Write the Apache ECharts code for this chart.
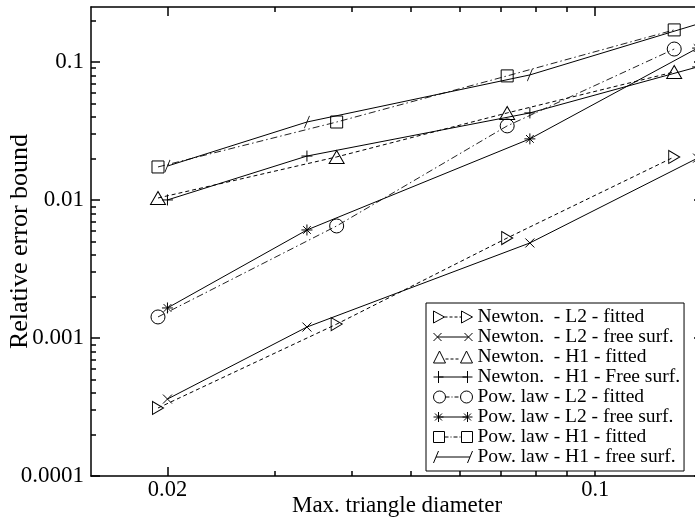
<!DOCTYPE html>
<html>
<head>
<meta charset="utf-8">
<script src="https://cdn.jsdelivr.net/npm/echarts@6/dist/echarts.min.js"></script>
<style>
html, body { margin: 0; padding: 0; background: #fff; }
#chart { width: 695px; height: 518px; }
</style>
</head>
<body>
<div id="chart"></div>
<script>
// Max. triangle diameter of each mesh (fitted meshes / free-surface meshes)
const hFitted = [0.0193, 0.0378, 0.0718, 0.1346];
const hFree   = [0.0200, 0.0338, 0.0782, 0.147];

// Relative error bounds
const newtonL2Fitted = [3.11e-4, 1.26e-3, 5.30e-3, 0.0205];
const newtonL2Free   = [3.61e-4, 1.20e-3, 4.88e-3, 0.0201];
const newtonH1Fitted = [0.01033, 0.0205, 0.0427, 0.0846];
const newtonH1Free   = [0.0100, 0.0208, 0.0427, 0.092];
const powL2Fitted    = [1.42e-3, 6.48e-3, 0.0344, 0.124];
const powL2Free      = [1.65e-3, 6.06e-3, 0.0277, 0.126];
const powH1Fitted    = [0.01734, 0.0367, 0.0792, 0.1706];
const powH1Free      = [0.0176, 0.0367, 0.0805, 0.188];

const seriesNames = [
  'Newton.  - L2 - fitted',
  'Newton.  - L2 - free surf.',
  'Newton.  - H1 - fitted',
  'Newton.  - H1 - Free surf.',
  'Pow. law - L2 - fitted',
  'Pow. law - L2 - free surf.',
  'Pow. law - H1 - fitted',
  'Pow. law - H1 - free surf.'
];

// Axis ticks
const xMajorTicks = [0.02, 0.1];
const xTickLabels = ['0.02', '0.1'];
const xMinorTicks = [0.03, 0.04, 0.05, 0.06, 0.07, 0.08, 0.09];
const yMajorTicks = [0.0001, 0.001, 0.01, 0.1];
const yTickLabels = ['0.0001', '0.001', '0.01', '0.1'];
const yMinorTicks = [
  2e-4, 3e-4, 4e-4, 5e-4, 6e-4, 7e-4, 8e-4, 9e-4,
  2e-3, 3e-3, 4e-3, 5e-3, 6e-3, 7e-3, 8e-3, 9e-3,
  0.02, 0.03, 0.04, 0.05, 0.06, 0.07, 0.08, 0.09, 0.2
];

const X_MIN = 0.015, X_MAX = 0.15, Y_MIN = 0.0001, Y_MAX = 0.25;
const FONT = 'Liberation Serif';

function labelFor(ticks, labels) {
  return function (v) {
    for (let i = 0; i < ticks.length; i++) {
      if (Math.abs(Math.log10(v) - Math.log10(ticks[i])) < 1e-6) return labels[i];
    }
    return '';
  };
}

// Dashed segment helper for legend sample icons
function dashes(x0, x1, y, pattern) {
  let p = '', x = x0, k = 0;
  while (x < x1) {
    const len = pattern[k % pattern.length];
    const on = k % 2 === 0;
    const xe = Math.min(x + len, x1);
    if (on) p += 'M' + x + ',' + y + 'L' + xe + ',' + y;
    x += len; k++;
  }
  return p;
}
const DASH = [3, 2];
const DASHDOT = [4, 2, 1, 2];

const symbols = {
  triRight: 'path://M0,0L11,6L0,12Z',
  cross: 'path://M0,0L10,10M0,10L10,0',
  plus: 'path://M5,0L5,10M0,5L10,5',
  star: 'path://M5,0L5,10M0,5L10,5M1.5,1.5L8.5,8.5M1.5,8.5L8.5,1.5',
  slash: 'path://M0,12L5,0'
};

const legendIcons = [
  'path://M0,0L11,6L0,12Z' + dashes(11, 28, 6, DASH) + 'M28,0L39,6L28,12Z',
  'path://M0,2L8,10M0,10L8,2M4,6L35,6M31,2L39,10M31,10L39,2',
  'path://M0,12L6,0L12,12Z' + dashes(12, 27, 8, DASH) + 'M27,12L33,0L39,12Z',
  'path://M5,0L5,12M0,6L10,6M5,6L34,6M34,0L34,12M29,6L39,6',
  'path://M12,6A6,6,0,1,1,0,6A6,6,0,1,1,12,6Z' + dashes(12, 27, 6, DASHDOT) + 'M39,6A6,6,0,1,1,27,6A6,6,0,1,1,39,6Z',
  'path://M5,1L5,11M0,6L10,6M1.5,2.5L8.5,9.5M1.5,9.5L8.5,2.5M5,6L34,6M34,1L34,11M29,6L39,6M30.5,2.5L37.5,9.5M30.5,9.5L37.5,2.5',
  'path://M0,0.5L11,0.5L11,11.5L0,11.5Z' + dashes(11, 28, 6, DASHDOT) + 'M28,0.5L39,0.5L39,11.5L28,11.5Z',
  'path://M0,12L5,0M2.5,6L36.5,6M34,12L39,0'
];

function pts(xs, ys) { return xs.map((x, i) => [x, ys[i]]); }

const markerStyle = { color: 'rgba(0,0,0,0)', borderColor: '#000', borderWidth: 1 };

function lineSeries(name, xs, ys, symbol, size, lineType, width, lineColor) {
  return {
    name: name,
    type: 'line',
    data: pts(xs, ys),
    symbol: symbol,
    symbolSize: size,
    showSymbol: true,
    itemStyle: markerStyle,
    lineStyle: { color: lineColor || '#000', width: width || 1, type: lineType },
    emphasis: { disabled: true },
    z: 3
  };
}

const series = [
  lineSeries(seriesNames[0], hFitted, newtonL2Fitted, symbols.triRight, [11, 13], [4, 3]),
  lineSeries(seriesNames[1], hFree, newtonL2Free, symbols.cross, 9, 'solid'),
  lineSeries(seriesNames[2], hFitted, newtonH1Fitted, 'triangle', [15, 13], [4, 3]),
  lineSeries(seriesNames[3], hFree, newtonH1Free, symbols.plus, 11, 'solid'),
  lineSeries(seriesNames[4], hFitted, powL2Fitted, 'circle', 14, [7, 3, 1.5, 3], 1, '#222'),
  lineSeries(seriesNames[5], hFree, powL2Free, symbols.star, 11, 'solid'),
  lineSeries(seriesNames[6], hFitted, powH1Fitted, 'rect', 12, [7, 3, 1.5, 3], 1, '#222'),
  lineSeries(seriesNames[7], hFree, powH1Free, symbols.slash, [5, 12], 'solid')
];

const axisLineStyle = { color: '#000', width: 1.5 };
const tickStyle = { color: '#000', width: 1.5 };

function xAxis(position, ticks, len, showLine, labels) {
  return {
    type: 'log', logBase: 10, min: X_MIN, max: X_MAX, position: position,
    axisLine: { show: showLine, onZero: false, lineStyle: axisLineStyle },
    axisTick: { show: true, inside: true, length: len, customValues: ticks, lineStyle: tickStyle },
    axisLabel: labels ? {
      show: true, customValues: xMajorTicks, formatter: labelFor(xMajorTicks, xTickLabels),
      fontFamily: FONT, fontSize: 22.5, color: '#000', margin: 3
    } : { show: false },
    splitLine: { show: false },
    minorTick: { show: false }
  };
}
function yAxis(position, ticks, len, showLine, labels) {
  return {
    type: 'log', logBase: 10, min: Y_MIN, max: Y_MAX, position: position,
    axisLine: { show: showLine, onZero: false, lineStyle: axisLineStyle },
    axisTick: { show: true, inside: true, length: len, customValues: ticks, lineStyle: tickStyle },
    axisLabel: labels ? {
      show: true, customValues: yMajorTicks, formatter: labelFor(yMajorTicks, yTickLabels),
      fontFamily: FONT, fontSize: 23, color: '#000', margin: 7
    } : { show: false },
    splitLine: { show: false },
    minorTick: { show: false }
  };
}

const xAxes = [
  Object.assign(xAxis('bottom', xMajorTicks, 9, true, true), {
    name: 'Max. triangle diameter', nameLocation: 'middle', nameGap: 18, nameMoveOverlap: false,
    nameTextStyle: { fontFamily: FONT, fontSize: 23, color: '#000' }
  }),
  xAxis('bottom', xMinorTicks, 5, false, false),
  xAxis('top', xMajorTicks, 9, true, false),
  xAxis('top', xMinorTicks, 5, false, false)
];
const yAxes = [
  Object.assign(yAxis('left', yMajorTicks, 9, true, true), {
    name: 'Relative error bound', nameLocation: 'middle', nameGap: 58, nameMoveOverlap: false,
    nameTextStyle: { fontFamily: FONT, fontSize: 26, color: '#000' }
  }),
  yAxis('left', yMinorTicks, 5, false, false),
  yAxis('right', yMajorTicks, 9, true, false)
];

const chart = echarts.init(document.getElementById('chart'), null, { renderer: 'canvas' });
chart.setOption({
  animation: false,
  backgroundColor: '#fff',
  grid: { left: 91, top: 7, right: -8, bottom: 42, containLabel: false, outerBoundsMode: 'none' },
  xAxis: xAxes,
  yAxis: yAxes,
  legend: {
    orient: 'vertical',
    left: 426,
    top: 303,
    padding: [4, 4, 4, 7],
    itemGap: 0,
    itemWidth: 39,
    itemHeight: 12,
    symbolRotate: 0,
    backgroundColor: '#fff',
    borderColor: '#000',
    borderWidth: 1,
    borderRadius: 0,
    selectedMode: false,
    itemStyle: { color: 'rgba(0,0,0,0)', borderColor: '#000', borderWidth: 1 },
    textStyle: { fontFamily: FONT, fontSize: 19.5, lineHeight: 17.7, color: '#000', padding: 0 },
    data: seriesNames.map((n, i) => ({ name: n, icon: legendIcons[i] }))
  },
  series: series
});
</script>
</body>
</html>
